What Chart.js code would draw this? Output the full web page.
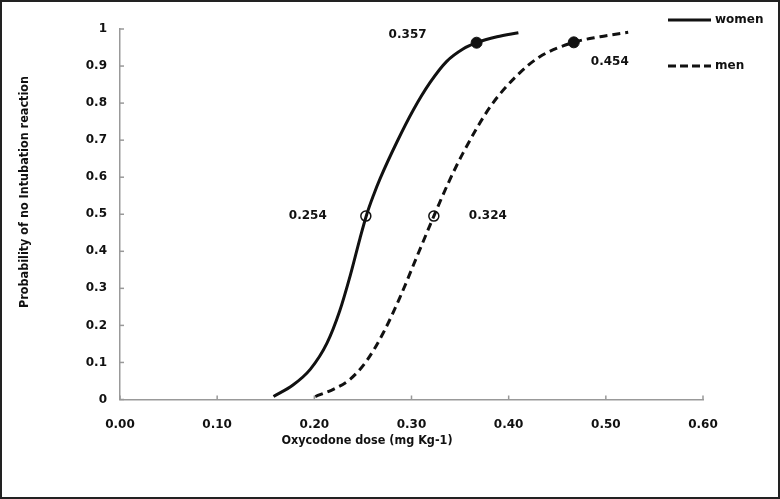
<!DOCTYPE html>
<html>
<head>
<meta charset="utf-8">
<script src="https://cdn.jsdelivr.net/npm/chart.js@4.4.1/dist/chart.umd.min.js"></script>
<style>
  html, body { margin: 0; padding: 0; background: #fff; }
  #wrap { width: 780px; height: 499px; position: relative; }
</style>
</head>
<body>
<div id="wrap"><canvas id="doseChart" width="780" height="499"></canvas></div>
<script>
// values
var womenDose = [0.158, 0.178, 0.196, 0.213, 0.226, 0.237, 0.247, 0.254, 0.261, 0.268, 0.285, 0.302, 0.319, 0.336, 0.353, 0.367, 0.388, 0.410];
var womenProb = [0.008, 0.039, 0.082, 0.152, 0.238, 0.335, 0.435, 0.500, 0.552, 0.598, 0.695, 0.782, 0.855, 0.912, 0.946, 0.963, 0.979, 0.990];
var menDose = [0.201, 0.220, 0.237, 0.254, 0.271, 0.288, 0.305, 0.323, 0.338, 0.353, 0.381, 0.408, 0.432, 0.467, 0.494, 0.523];
var menProb = [0.008, 0.028, 0.055, 0.105, 0.180, 0.275, 0.382, 0.495, 0.585, 0.665, 0.790, 0.873, 0.925, 0.964, 0.979, 0.991];

// ED50 (open circles) and ED95 (filled dots): [women, men]
var ed50Dose = [0.253, 0.323];
var ed50Prob = [0.495, 0.495];
var ed95Dose = [0.367, 0.467];
var ed95Prob = [0.963, 0.964];
var ed50Labels = ['0.254', '0.324'];
var ed95Labels = ['0.357', '0.454'];

var xTicks = [0, 0.1, 0.2, 0.3, 0.4, 0.5, 0.6];
var yTicks = [0, 0.1, 0.2, 0.3, 0.4, 0.5, 0.6, 0.7, 0.8, 0.9, 1];
var seriesNames = ['women', 'men'];

function pts(xs, ys) {
    return xs.map(function(x, i) { return { x: x, y: ys[i] }; });
}

var BOLD = 'bold 12px "DejaVu Sans"';
var TITLE = 'bold 12.5px "DejaVu Sans Condensed", "DejaVu Sans"';

var extras = {
    id: 'extras',
    afterDatasetsDraw: function(chart) {
        var ctx = chart.ctx;
        var xs = chart.scales.x, ys = chart.scales.y;
        var area = chart.chartArea;
        ctx.save();

        // inward tick marks
        ctx.strokeStyle = '#999';
        ctx.lineWidth = 1.5;
        yTicks.forEach(function(v) {
            var py = ys.getPixelForValue(v);
            ctx.beginPath();
            ctx.moveTo(area.left, py);
            ctx.lineTo(area.left + 4, py);
            ctx.stroke();
        });
        xTicks.forEach(function(v) {
            var px = xs.getPixelForValue(v);
            ctx.beginPath();
            ctx.moveTo(px, area.bottom);
            ctx.lineTo(px, area.bottom - 4);
            ctx.stroke();
        });

        // value labels next to the markers
        ctx.fillStyle = '#111';
        ctx.font = BOLD;
        ctx.textAlign = 'center';
        ctx.textBaseline = 'middle';
        var off50 = [[-58, 0], [54, 0]];
        var off95 = [[-69, -8], [36, 20]];
        for (var i = 0; i < 2; i++) {
            ctx.fillText(ed50Labels[i], xs.getPixelForValue(ed50Dose[i]) + off50[i][0], ys.getPixelForValue(ed50Prob[i]) + off50[i][1]);
            ctx.fillText(ed95Labels[i], xs.getPixelForValue(ed95Dose[i]) + off95[i][0], ys.getPixelForValue(ed95Prob[i]) + off95[i][1]);
        }

        // legend
        ctx.textAlign = 'left';
        ctx.strokeStyle = '#111';
        ctx.lineWidth = 3;
        var ly = [20, 66];
        for (var j = 0; j < 2; j++) {
            ctx.setLineDash(j === 0 ? [] : [8, 4]);
            ctx.beginPath();
            ctx.moveTo(668, ly[j]);
            ctx.lineTo(711, ly[j]);
            ctx.stroke();
            ctx.setLineDash([]);
            ctx.fillText(seriesNames[j], 715, ly[j]);
        }

        // axis titles
        ctx.font = TITLE;
        ctx.textAlign = 'center';
        ctx.fillText('Oxycodone dose (mg Kg-1)', 367, 441);
        ctx.translate(25, 192);
        ctx.rotate(-Math.PI / 2);
        ctx.fillText('Probability of no Intubation reaction', 0, 0);
        ctx.restore();

        // frame
        ctx.save();
        ctx.strokeStyle = '#222';
        ctx.lineWidth = 2;
        ctx.strokeRect(1, 1, chart.width - 2, chart.height - 2);
        ctx.restore();
    }
};

var doseChart = new Chart(document.getElementById('doseChart'), {
    type: 'scatter',
    data: {
        datasets: [{
            label: seriesNames[0],
            data: pts(womenDose, womenProb),
            showLine: true,
            borderColor: '#111',
            borderWidth: 3,
            pointRadius: 0,
            cubicInterpolationMode: 'monotone'
        }, {
            label: seriesNames[1],
            data: pts(menDose, menProb),
            showLine: true,
            borderColor: '#111',
            borderWidth: 3,
            borderDash: [8, 5],
            pointRadius: 0,
            cubicInterpolationMode: 'monotone'
        }, {
            label: 'ED50',
            data: pts(ed50Dose, ed50Prob),
            pointRadius: 5,
            pointBorderWidth: 1.5,
            borderColor: '#111',
            backgroundColor: 'rgba(0,0,0,0)'
        }, {
            label: 'ED95',
            data: pts(ed95Dose, ed95Prob),
            pointRadius: 5.5,
            borderColor: '#111',
            backgroundColor: '#111'
        }]
    },
    options: {
        responsive: false,
        animation: false,
        layout: { padding: { top: 29, right: 77, left: 0, bottom: 0 } },
        plugins: {
            legend: { display: false },
            tooltip: { enabled: false }
        },
        scales: {
            x: {
                type: 'linear',
                min: 0,
                max: 0.6,
                afterBuildTicks: function(axis) { axis.ticks = xTicks.map(function(v) { return { value: v }; }); },
                afterFit: function(axis) { axis.height = 99.5; },
                border: { color: '#999', width: 1.5 },
                grid: { display: false, drawTicks: false },
                ticks: {
                    padding: 18,
                    color: '#111',
                    font: { family: 'DejaVu Sans', size: 12, weight: 'bold' },
                    callback: function(v) { return v.toFixed(2); }
                }
            },
            y: {
                type: 'linear',
                min: 0,
                max: 1,
                afterBuildTicks: function(axis) { axis.ticks = yTicks.map(function(v) { return { value: v }; }); },
                afterFit: function(axis) { axis.width = 120; },
                border: { color: '#999', width: 1.5 },
                grid: { display: false, drawTicks: false },
                ticks: {
                    padding: 13,
                    color: '#111',
                    font: { family: 'DejaVu Sans', size: 12, weight: 'bold' },
                    callback: function(v) { return (v === 0 || v === 1) ? String(v) : v.toFixed(1); }
                }
            }
        }
    },
    plugins: [extras]
});
</script>
</body>
</html>
